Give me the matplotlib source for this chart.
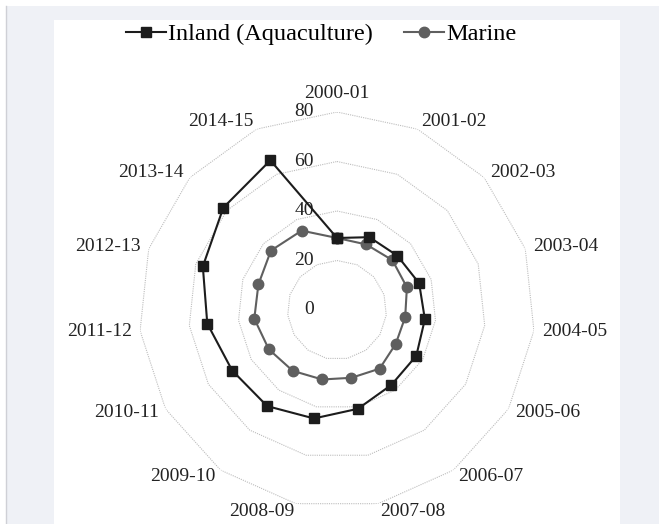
import numpy as np
import matplotlib.pyplot as plt
import matplotlib.transforms as mtransforms
from matplotlib.patches import Rectangle
from matplotlib.lines import Line2D

plt.rcParams['font.family'] = ['Liberation Serif', 'DejaVu Serif']

# данные
years = ['2000-01', '2001-02', '2002-03', '2003-04', '2004-05', '2005-06',
         '2006-07', '2007-08', '2008-09', '2009-10', '2010-11', '2011-12',
         '2012-13', '2013-14', '2014-15']
inland = [29.1, 32.2, 32.8, 34.9, 35.7, 37.0, 37.4, 40.8, 44.8, 48.0,
          48.9, 52.7, 57.0, 61.8, 66.2]
marine = [29.1, 29.0, 30.1, 29.7, 27.7, 27.4, 29.3, 28.0, 28.7, 30.4,
          31.8, 33.6, 33.4, 35.9, 35.1]
r_ticks = [0, 20, 40, 60, 80]

W, H = 659, 524
fig = plt.figure(figsize=(W / 100, H / 100), dpi=100)
fig.patch.set_facecolor('white')

# фон
fig.add_artist(Rectangle((6 / W, 0), 1 - 6 / W, (H - 6) / H, transform=fig.transFigure,
                         facecolor='#eff1f6', edgecolor='none', zorder=-3))
fig.add_artist(Line2D([6 / W, 6 / W], [0, (H - 6) / H], transform=fig.transFigure,
                      color='#cfd0d6', lw=1.0, zorder=-2))
fig.add_artist(Rectangle((54 / W, 0), (620 - 54) / W, (H - 20) / H, transform=fig.transFigure,
                         facecolor='white', edgecolor='none', zorder=-2))

# радар
cx, cy, R = 337, 310, 198
ax = fig.add_axes([(cx - R) / W, (H - cy - R) / H, 2 * R / W, 2 * R / H], projection='polar')
ax.set_theta_zero_location('N')
ax.set_theta_direction(-1)
ax.set_ylim(0, 80)
ax.patch.set_alpha(0)
ax.spines['polar'].set_visible(False)
ax.grid(False)
ax.set_xticks([])
ax.set_yticks([])

n = len(years)
theta = np.arange(n) * 2 * np.pi / n
theta_c = np.append(theta, theta[0])

# многоугольная сетка
for r in r_ticks[1:]:
    ax.plot(theta_c, [r] * (n + 1), color='#bdbdbd', lw=0.8, ls=(0, (1, 1)), zorder=1)

ax.plot(theta_c, inland + inland[:1], color='#1c1c1c', lw=1.5, marker='s', ms=7.5,
        label='Inland (Aquaculture)', zorder=4, clip_on=False)
ax.plot(theta_c, marine + marine[:1], color='#5f5f5f', lw=1.5, marker='o', ms=7.5,
        label='Marine', zorder=3, clip_on=False)

# подписи категорий
for i, lab in enumerate(years):
    s = np.sin(theta[i])
    if i == 0:
        ax.text(theta[i], 85.5, lab, ha='center', va='baseline', fontsize=14, color='#222222')
        continue
    ha = 'left' if s > 0.1 else ('right' if s < -0.1 else 'center')
    ax.text(theta[i], 83.2, lab, ha=ha, va='center', fontsize=14, color='#222222')

# подписи радиальной оси
tr = mtransforms.offset_copy(ax.transData, fig=fig, x=-23, y=0, units='dots')
for r in r_ticks:
    ax.text(0, r, str(r), transform=tr, ha='right', va='center', fontsize=14, color='#222222')

fig.legend(loc='center', bbox_to_anchor=(321 / W, 1 - 34 / H), ncol=2, frameon=False,
           fontsize=17.5, handlelength=1.65, handletextpad=0.08, columnspacing=1.28)

plt.savefig('out.png', dpi=100)
